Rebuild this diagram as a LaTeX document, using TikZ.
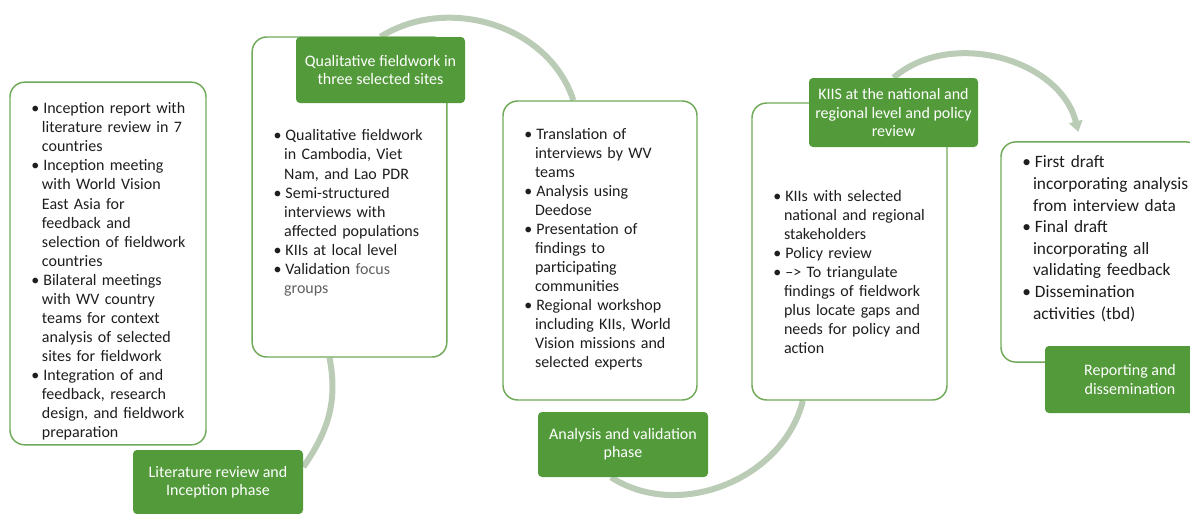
\documentclass[tikz,border=0pt]{standalone}
\usepackage{fontspec}
\setmainfont{Carlito}
\usepackage{enumitem}
\usetikzlibrary{arrows.meta,backgrounds}

\setlist[itemize]{nosep,leftmargin=16pt,labelwidth=5pt,labelsep=3pt,align=left,label=\textbullet}

\definecolor{phasegreen}{RGB}{82,154,58}
\definecolor{boxline}{RGB}{112,170,88}
\definecolor{flowgray}{RGB}{186,204,182}
\definecolor{bodytext}{RGB}{30,30,30}

\tikzset{
  stepbox/.style={draw=boxline, line width=1.1pt, rounded corners=11pt, fill=white,
    text=bodytext, inner xsep=8pt, align=left, font=\fontsize{12}{14.3}\selectfont},
  phase/.style={fill=phasegreen, rounded corners=3pt, text=white, align=center,
    inner sep=2pt, font=\fontsize{12}{13.8}\selectfont},
  flow/.style={draw=flowgray, line width=4.5pt}
}

\begin{document}
\begin{tikzpicture}[x=0.75pt,y=-0.75pt]
  \useasboundingbox (0,0) rectangle (1190,514);

  % the five steps
  \node[stepbox, text width=131pt, minimum height=270.75pt] (litbox) at (108,263.5) {%
    \vspace*{6pt}
    \begin{itemize}
      \item Inception report with\\ literature review in 7\\ countries
      \item Inception meeting\\ with World Vision\\ East Asia for\\ feedback and\\ selection of fieldwork\\ countries
      \item Bilateral meetings\\ with WV country\\ teams for context\\ analysis of selected\\ sites for fieldwork
      \item Integration of and\\ feedback, research\\ design, and fieldwork\\ preparation
    \end{itemize}};
  \node[stepbox, text width=130pt, minimum height=240pt] (qualbox) at (349.5,197) {%
    \vspace*{18pt}
    \begin{itemize}
      \item Qualitative fieldwork\\ in Cambodia, Viet\\ Nam, and Lao PDR
      \item Semi-structured\\ interviews with\\ affected populations
      \item KIIs at local level
      \item Validation {\color{black!62}focus\\ groups}
    \end{itemize}};
  \node[stepbox, text width=129.5pt, minimum height=224.25pt] (anabox) at (600,250.5) {%
    \begin{itemize}
      \item Translation of\\ interviews by WV\\ teams
      \item Analysis using\\ Deedose
      \item Presentation of\\ findings to\\ participating\\ communities
      \item Regional workshop\\ including KIIs, World\\ Vision missions and\\ selected experts
    \end{itemize}
    \par\vspace*{8pt}};
  \node[stepbox, text width=130.25pt, minimum height=222.75pt] (kiibox) at (849.5,251.5) {%
    \vspace*{25pt}
    \begin{itemize}
      \item KIIs with selected\\ national and regional\\ stakeholders
      \item Policy review
      \item --> To triangulate\\ findings of fieldwork\\ plus locate gaps and\\ needs for policy and\\ action
    \end{itemize}};
  \node[stepbox, text width=134pt, minimum height=165pt,
    font=\fontsize{13}{16.2}\selectfont] (repbox) at (1101,252) {%
    \begin{itemize}
      \item First draft\\ incorporating analysis\\ from interview data
      \item Final draft\\ incorporating all\\ validating feedback
      \item Dissemination\\ activities (tbd)
    \end{itemize}
    \par\vspace*{27pt}};

  % phase labels
  \node[phase, minimum width=127.5pt, minimum height=48pt] (lit) at (218,482)
    {Literature review and\\ Inception phase};
  \node[phase, minimum width=126.75pt, minimum height=49.5pt] (qual) at (380.5,70)
    {Qualitative fieldwork in\\ three selected sites};
  \node[phase, minimum width=127.5pt, minimum height=48.75pt] (ana) at (623,444.5)
    {Analysis and validation\\ phase};
  \node[phase, minimum width=126.75pt, minimum height=51.75pt] (kii) at (893.5,112.5)
    {KIIS at the national and\\ regional level and policy\\ review};
  \node[phase, minimum width=127.5pt, minimum height=50.25pt] (rep) at (1130,379.5)
    {Reporting and\\ dissemination};

  \begin{scope}[on background layer]
    \fill[white] (0,0) rectangle (1190,514);
    \draw[flow] (lit.10) to[out=55,in=-79] ([xshift=-15pt]qualbox.south);
    \draw[flow] (qual.north) to[out=32,in=108] ([xshift=-20pt]anabox.north);
    \draw[flow] (ana.250) to[out=-33,in=-104] ([xshift=-35pt]kiibox.south);
    \draw[flow, -{Triangle[length=8pt,width=10pt]}] (kii.north) to[out=41,in=104]
      ([xshift=-17pt,yshift=7pt]repbox.north);
  \end{scope}
\end{tikzpicture}
\end{document}
